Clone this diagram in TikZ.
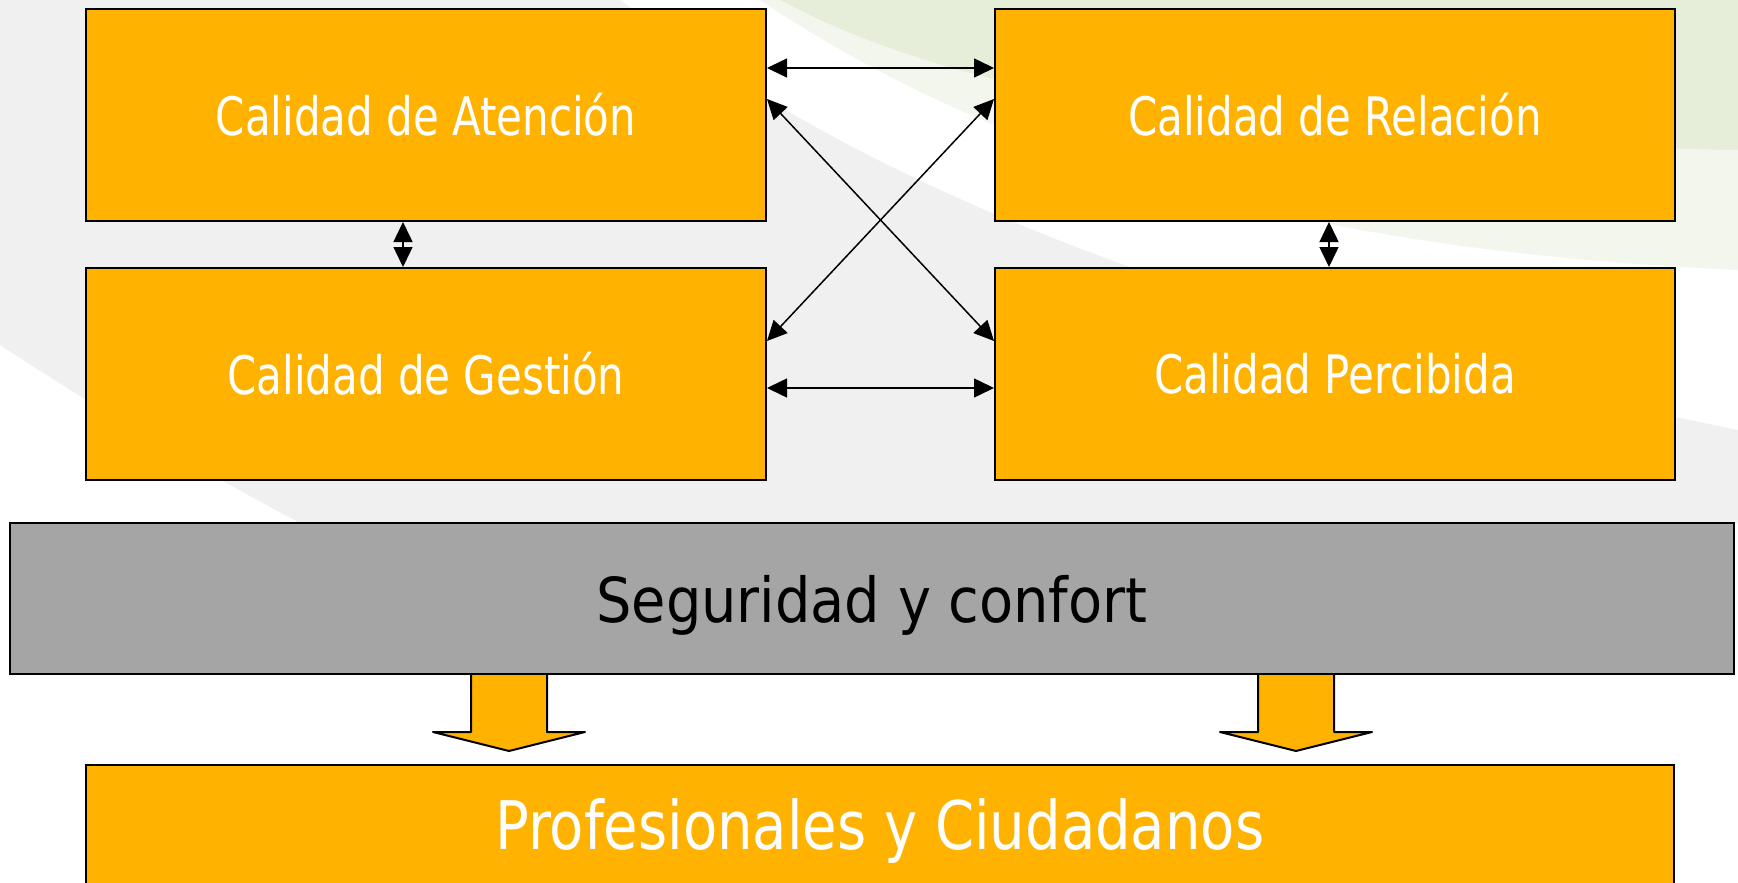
\documentclass[tikz,border=0pt]{standalone}
\usepackage{fontspec}
\setmainfont{DejaVu Sans Condensed}
\newfontfamily\estrecha[FakeStretch=0.88]{DejaVu Sans Condensed}
\newfontfamily\media[FakeStretch=0.93]{DejaVu Sans Condensed}
\usetikzlibrary{arrows.meta, positioning, calc}

\definecolor{naranja}{HTML}{FFB300}
\definecolor{grisbarra}{HTML}{A5A5A5}
\definecolor{grisfondo}{HTML}{F0F0F0}
\definecolor{verdefondo}{HTML}{E6EDD9}

\begin{document}
\begin{tikzpicture}[
    x=1pt, y=-1pt,
    >={Triangle[length=20pt, width=19pt]},
    % --- cajas ---
    calidad/.style={draw=black, line width=2pt, fill=naranja, text=white, inner sep=0pt,
        minimum width=680pt, minimum height=212pt, font=\fontsize{53}{60}\estrecha},
    barra/.style={draw=black, line width=2pt, fill=grisbarra, text=black, inner sep=0pt,
        minimum width=1724pt, minimum height=151pt, font=\fontsize{62}{70}\selectfont},
    destino/.style={draw=black, line width=2pt, fill=naranja, text=white, inner sep=0pt,
        minimum width=1588pt, minimum height=150pt, font=\fontsize{67}{75}\media},
    % --- flechas ---
    flecha/.style={<->, line width=1.5pt, black},
    bloque/.style={draw=black, line width=2pt, fill=naranja, line join=round}
]

% ==================== fondo ====================
\clip (0,0) rectangle (1738,883);
\fill[white] (0,0) rectangle (1738,883);
\fill[grisfondo] (0,0) -- (620,0) .. controls (820,150) and (1100,300) .. (1738,430)
    -- (1738,523) -- (300,523) .. controls (200,470) and (100,410) .. (0,345) -- cycle;
\fill[verdefondo!50] (760,0) .. controls (1000,160) and (1300,250) .. (1738,270) -- (1738,0) -- cycle;
\fill[verdefondo] (780,0) .. controls (950,90) and (1200,140) .. (1738,150) -- (1738,0) -- cycle;

% ==================== 1. las cuatro calidades ====================
\node[calidad] (aten) at (426,115) {Calidad de Atención};
\node[calidad, right=227pt of aten] (rela) {Calidad de Relación};
\node[calidad, below=45pt of aten] (gest) {Calidad de Gestión};
\node[calidad, below=45pt of rela] (perc) {Calidad Percibida};

% relaciones entre cajas
\draw[flecha] ($(aten.north east)+(0,60)$) -- ($(rela.north west)+(0,60)$);
\draw[flecha] ($(gest.north east)+(0,121)$) -- ($(perc.north west)+(0,121)$);
\draw[flecha] ($(aten.north east)+(0,91)$) -- ($(perc.north west)+(0,74)$);
\draw[flecha] ($(rela.north west)+(0,91)$) -- ($(gest.north east)+(0,74)$);
\draw[flecha] ($(aten.south)+(-23,0)$) -- ($(gest.north)+(-23,0)$);
\draw[flecha] ($(rela.south)+(-6,0)$) -- ($(perc.north)+(-6,0)$);

% ==================== 2. base ====================
\node[barra] (segu) at (872,598.5) {\raisebox{-7pt}[\height][\depth]{Seguridad y confort}};
\node[destino] (prof) at (880,840) {\raisebox{9pt}[\height][\depth]{Profesionales y Ciudadanos}};

% flechas de bloque
\foreach \dx in {-401, 386} {
    \draw[bloque] ($(segu.south)+(\dx,0)$) -- ++(0,57) -- ++(-38,0) -- ++(76,19)
        -- ++(76,-19) -- ++(-38,0) -- ++(0,-57);
}

\end{tikzpicture}
\end{document}
